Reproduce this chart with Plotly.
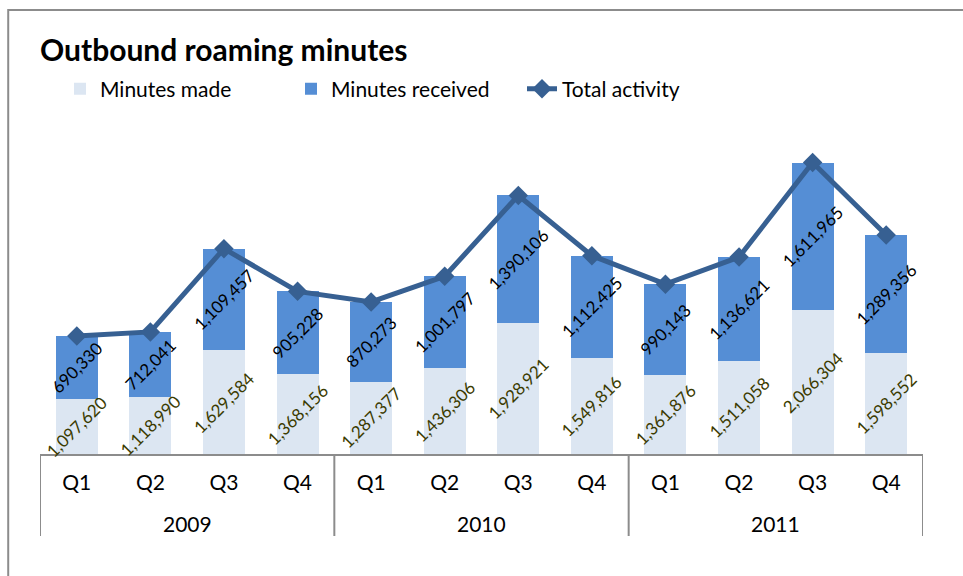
import plotly.graph_objects as go

years = ["2009"] * 4 + ["2010"] * 4 + ["2011"] * 4
quarters = ["Q1", "Q2", "Q3", "Q4"] * 3
year_groups = ["2009", "2010", "2011"]
minutes_made = [1097620, 1118990, 1629584, 1368156,
                1287377, 1436306, 1928921, 1549816,
                1361876, 1511058, 2066304, 1598552]
minutes_received = [690330, 712041, 1109457, 905228,
                    870273, 1001797, 1390106, 1112425,
                    990143, 1136621, 1611965, 1289356]
total_activity = [m + r for m, r in zip(minutes_made, minutes_received)]

x_keys = [f"{y} {q}" for y, q in zip(years, quarters)]

Y_MIN, Y_MAX = 500000, 4000000
FONT = "Lato"
C_MADE = "#DCE6F2"
C_RECV = "#558ED5"
C_LINE = "#376092"
C_AXIS = "#8C8C8C"

fig = go.Figure()
fig.add_trace(go.Bar(
    x=x_keys, y=minutes_made, name="Minutes made",
    marker=dict(color=C_MADE, line=dict(width=0)),
    textposition="none",
))
fig.add_trace(go.Bar(
    x=x_keys, y=minutes_received, name="Minutes received",
    marker=dict(color=C_RECV, line=dict(width=0)),
    text=[f"{v:,}" for v in minutes_received],
    textposition="inside", insidetextanchor="middle", textangle=-45,
    constraintext="none", cliponaxis=False,
    insidetextfont=dict(family=FONT, size=17, color="#000000"),
))
fig.add_trace(go.Scatter(
    x=x_keys, y=total_activity, name="Total activity",
    mode="lines+markers",
    line=dict(color=C_LINE, width=5),
    marker=dict(symbol="diamond", size=15, color=C_LINE),
))

annotations = []
for k, v in zip(x_keys, minutes_made):
    annotations.append(dict(
        x=k, y=(Y_MIN + v) / 2, xref="x", yref="y",
        text=f"{v:,}", showarrow=False, textangle=-45,
        font=dict(family=FONT, size=17, color="#3B3B00"),
    ))

# year labels centred under each group of quarters
n_q = 4
for g, yr in enumerate(year_groups):
    annotations.append(dict(
        x=g * n_q + (n_q - 1) / 2, y=-(523 - 454) / 321, xref="x", yref="paper",
        text=yr, showarrow=False, yanchor="middle",
        font=dict(family=FONT, size=21, color="#000000"),
    ))

shapes = [dict(type="rect", xref="paper", yref="paper",
               x0=-0.036, x1=1.06, y0=-0.5, y1=1.383,
               line=dict(color=C_AXIS, width=2), fillcolor="rgba(0,0,0,0)",
               layer="below")]
# group dividers under the axis
for g in range(len(year_groups) + 1):
    shapes.append(dict(type="line", xref="x", yref="paper",
                       x0=g * n_q - 0.5, x1=g * n_q - 0.5,
                       y0=0, y1=-(536 - 454) / 321,
                       line=dict(color=C_AXIS, width=2)))

fig.update_layout(
    width=963, height=576,
    margin=dict(l=40, r=40, t=133, b=122),
    paper_bgcolor="white", plot_bgcolor="white",
    barmode="stack", bargap=0.43,
    font=dict(family=FONT, size=19, color="#000000"),
    title=dict(text="<b>Outbound roaming minutes</b>",
               font=dict(family=FONT, size=30, color="#000000"),
               x=40 / 963, xanchor="left", xref="container",
               y=1 - 50 / 576, yanchor="middle", yref="container"),
    legend=dict(orientation="h", xref="container", yref="container",
                x=60 / 963, xanchor="left", y=1 - 89 / 576, yanchor="middle",
                font=dict(family=FONT, size=21, color="#000000"),
                entrywidth=186, traceorder="normal", bgcolor="rgba(0,0,0,0)"),
    xaxis=dict(type="category", range=[-0.5, len(x_keys) - 0.5],
               tickvals=x_keys, ticktext=quarters,
               showline=True, linecolor=C_AXIS, linewidth=2,
               ticks="", showgrid=False, ticklabelstandoff=9,
               tickfont=dict(family=FONT, size=21, color="#000000")),
    yaxis=dict(range=[Y_MIN, Y_MAX], visible=False, showgrid=False),
    annotations=annotations,
    shapes=shapes,
)

fig.write_html("out.html")
